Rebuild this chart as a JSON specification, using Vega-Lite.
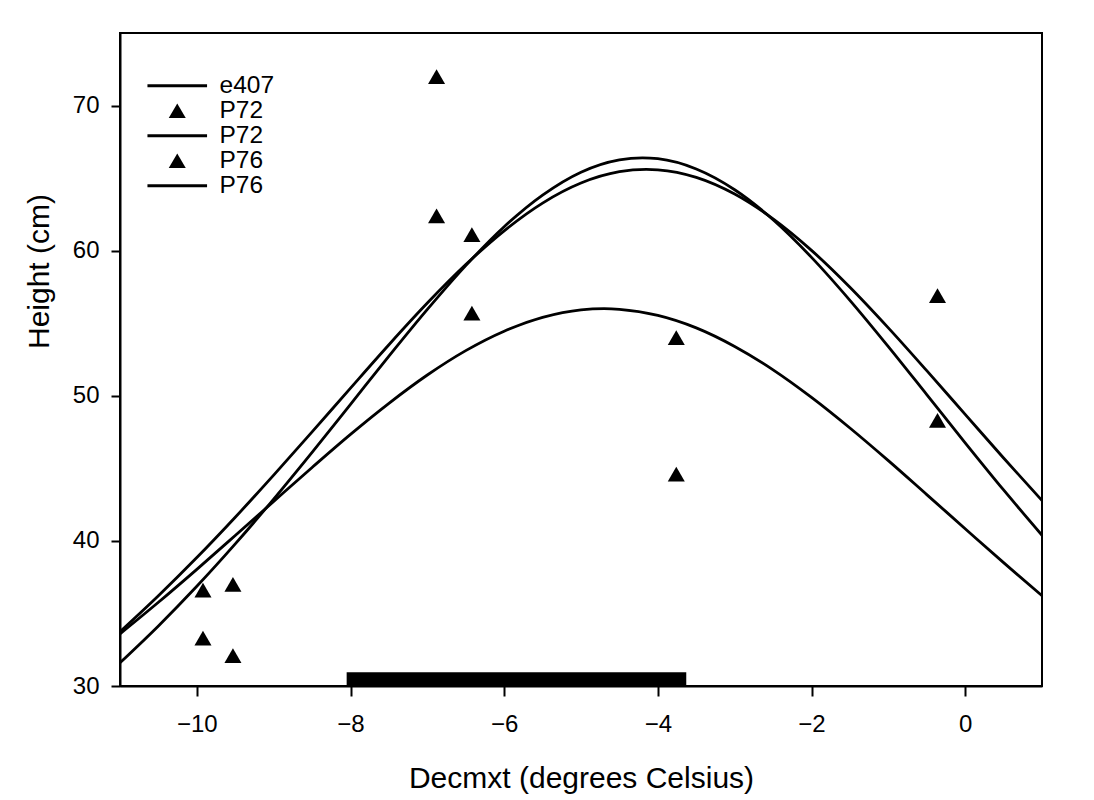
{
  "$schema": "https://vega.github.io/schema/vega-lite/v6.json",
  "width": 922,
  "height": 653,
  "autosize": {"type": "none"},
  "padding": {"left": 120, "top": 33, "right": 52, "bottom": 114},
  "background": "white",
  "config": {
    "font": "Liberation Sans",
    "view": {"stroke": "black", "strokeWidth": 2},
    "axis": {
      "grid": false,
      "domainColor": "black",
      "domainWidth": 2,
      "tickColor": "black",
      "tickWidth": 2,
      "labelColor": "black",
      "labelFontSize": 24,
      "labelFont": "Liberation Sans",
      "titleFont": "Liberation Sans",
      "titleFontSize": 30,
      "titleFontWeight": "normal",
      "titleColor": "black"
    }
  },
  "datasets": {
    "curves": [
      {"x": -11, "height": 31.60, "series": "P72"},
      {"x": -10.5, "height": 34.14, "series": "P72"},
      {"x": -10, "height": 36.87, "series": "P72"},
      {"x": -9.5, "height": 39.79, "series": "P72"},
      {"x": -9, "height": 42.88, "series": "P72"},
      {"x": -8.5, "height": 46.10, "series": "P72"},
      {"x": -8, "height": 49.41, "series": "P72"},
      {"x": -7.5, "height": 52.73, "series": "P72"},
      {"x": -7, "height": 55.95, "series": "P72"},
      {"x": -6.5, "height": 58.97, "series": "P72"},
      {"x": -6, "height": 61.65, "series": "P72"},
      {"x": -5.5, "height": 63.83, "series": "P72"},
      {"x": -5, "height": 65.41, "series": "P72"},
      {"x": -4.5, "height": 66.26, "series": "P72"},
      {"x": -4.2, "height": 66.40, "series": "P72"},
      {"x": -4, "height": 66.34, "series": "P72"},
      {"x": -3.5, "height": 65.63, "series": "P72"},
      {"x": -3, "height": 64.20, "series": "P72"},
      {"x": -2.5, "height": 62.13, "series": "P72"},
      {"x": -2, "height": 59.54, "series": "P72"},
      {"x": -1.5, "height": 56.58, "series": "P72"},
      {"x": -1, "height": 53.39, "series": "P72"},
      {"x": -0.5, "height": 50.08, "series": "P72"},
      {"x": 0, "height": 46.76, "series": "P72"},
      {"x": 0.5, "height": 43.51, "series": "P72"},
      {"x": 1, "height": 40.39, "series": "P72"},

      {"x": -11, "height": 33.74, "series": "P76"},
      {"x": -10.5, "height": 36.22, "series": "P76"},
      {"x": -10, "height": 38.85, "series": "P76"},
      {"x": -9.5, "height": 41.63, "series": "P76"},
      {"x": -9, "height": 44.53, "series": "P76"},
      {"x": -8.5, "height": 47.51, "series": "P76"},
      {"x": -8, "height": 50.53, "series": "P76"},
      {"x": -7.5, "height": 53.52, "series": "P76"},
      {"x": -7, "height": 56.39, "series": "P76"},
      {"x": -6.5, "height": 59.04, "series": "P76"},
      {"x": -6, "height": 61.37, "series": "P76"},
      {"x": -5.5, "height": 63.28, "series": "P76"},
      {"x": -5, "height": 64.66, "series": "P76"},
      {"x": -4.5, "height": 65.44, "series": "P76"},
      {"x": -4.15, "height": 65.60, "series": "P76"},
      {"x": -4, "height": 65.57, "series": "P76"},
      {"x": -3.5, "height": 65.05, "series": "P76"},
      {"x": -3, "height": 63.90, "series": "P76"},
      {"x": -2.5, "height": 62.19, "series": "P76"},
      {"x": -2, "height": 60.02, "series": "P76"},
      {"x": -1.5, "height": 57.48, "series": "P76"},
      {"x": -1, "height": 54.68, "series": "P76"},
      {"x": -0.5, "height": 51.73, "series": "P76"},
      {"x": 0, "height": 48.72, "series": "P76"},
      {"x": 0.5, "height": 45.71, "series": "P76"},
      {"x": 1, "height": 42.78, "series": "P76"},

      {"x": -11, "height": 33.59, "series": "e407"},
      {"x": -10.5, "height": 35.77, "series": "e407"},
      {"x": -10, "height": 38.04, "series": "e407"},
      {"x": -9.5, "height": 40.37, "series": "e407"},
      {"x": -9, "height": 42.72, "series": "e407"},
      {"x": -8.5, "height": 45.06, "series": "e407"},
      {"x": -8, "height": 47.34, "series": "e407"},
      {"x": -7.5, "height": 49.48, "series": "e407"},
      {"x": -7, "height": 51.43, "series": "e407"},
      {"x": -6.5, "height": 53.11, "series": "e407"},
      {"x": -6, "height": 54.45, "series": "e407"},
      {"x": -5.5, "height": 55.40, "series": "e407"},
      {"x": -5, "height": 55.92, "series": "e407"},
      {"x": -4.7, "height": 56.00, "series": "e407"},
      {"x": -4.5, "height": 55.96, "series": "e407"},
      {"x": -4, "height": 55.54, "series": "e407"},
      {"x": -3.5, "height": 54.68, "series": "e407"},
      {"x": -3, "height": 53.40, "series": "e407"},
      {"x": -2.5, "height": 51.79, "series": "e407"},
      {"x": -2, "height": 49.89, "series": "e407"},
      {"x": -1.5, "height": 47.78, "series": "e407"},
      {"x": -1, "height": 45.53, "series": "e407"},
      {"x": -0.5, "height": 43.19, "series": "e407"},
      {"x": 0, "height": 40.84, "series": "e407"},
      {"x": 0.5, "height": 38.50, "series": "e407"},
      {"x": 1, "height": 36.22, "series": "e407"}
    ],
    "points": [
      {"x": -9.92, "height": 36.6, "series": "P72a"},
      {"x": -9.53, "height": 32.1, "series": "P72a"},
      {"x": -6.88, "height": 72.0, "series": "P72a"},
      {"x": -6.42, "height": 55.7, "series": "P72a"},
      {"x": -3.76, "height": 54.0, "series": "P72a"},
      {"x": -0.36, "height": 48.3, "series": "P72a"},
      {"x": -9.92, "height": 33.3, "series": "P76a"},
      {"x": -9.53, "height": 37.0, "series": "P76a"},
      {"x": -6.88, "height": 62.4, "series": "P76a"},
      {"x": -6.42, "height": 61.1, "series": "P76a"},
      {"x": -3.76, "height": 44.6, "series": "P76a"},
      {"x": -0.36, "height": 56.9, "series": "P76a"}
    ],
    "bar": [
      {"start": -8.05, "end": -3.63, "low": 30, "high": 30.94}
    ]
  },
  "layer": [
    {
      "data": {"name": "bar"},
      "mark": {"type": "rect", "color": "black"},
      "encoding": {
        "x": {"field": "start", "type": "quantitative", "scale": {"domain": [-11, 1], "nice": false, "zero": false}},
        "x2": {"field": "end"},
        "y": {"field": "low", "type": "quantitative", "scale": {"domain": [30, 75], "nice": false, "zero": false}},
        "y2": {"field": "high"}
      }
    },
    {
      "data": {"name": "curves"},
      "mark": {"type": "line", "color": "black", "strokeWidth": 2.8, "interpolate": "monotone"},
      "encoding": {
        "x": {"field": "x", "type": "quantitative"},
        "y": {"field": "height", "type": "quantitative"},
        "detail": {"field": "series", "type": "nominal"}
      }
    },
    {
      "data": {"name": "points"},
      "mark": {"type": "point", "filled": true, "color": "black", "opacity": 1, "size": 290},
      "encoding": {
        "x": {
          "field": "x", "type": "quantitative",
          "axis": {"values": [-10, -8, -6, -4, -2, 0], "format": "d", "title": "Decmxt (degrees Celsius)", "tickSize": 10, "labelPadding": 16, "titlePadding": 27}
        },
        "y": {
          "field": "height", "type": "quantitative",
          "axis": {"values": [30, 40, 50, 60, 70], "format": "d", "title": "Height (cm)", "tickSize": 9, "labelPadding": 12, "titlePadding": 18, "titleY": 238}
        },
        "shape": {
          "field": "series", "type": "nominal",
          "scale": {
            "domain": ["e407", "P72a", "P72", "P76a", "P76"],
            "range": ["M-3.5,-0.18H3.5V0.18H-3.5Z", "triangle-up", "M-3.5,-0.18H3.5V0.18H-3.5Z", "triangle-up", "M-3.5,-0.18H3.5V0.18H-3.5Z"]
          },
          "legend": {
            "title": null,
            "orient": "none",
            "legendX": 45,
            "legendY": 40.5,
            "padding": 0,
            "rowPadding": 0,
            "symbolSize": 290,
            "symbolFillColor": "black",
            "symbolStrokeWidth": 0,
            "symbolOpacity": 1,
            "labelOffset": 30,
            "labelFontSize": 24.5,
            "labelFont": "Liberation Sans",
            "labelColor": "black",
            "labelExpr": "replace(datum.label, 'a', '')"
          }
        }
      }
    }
  ]
}
